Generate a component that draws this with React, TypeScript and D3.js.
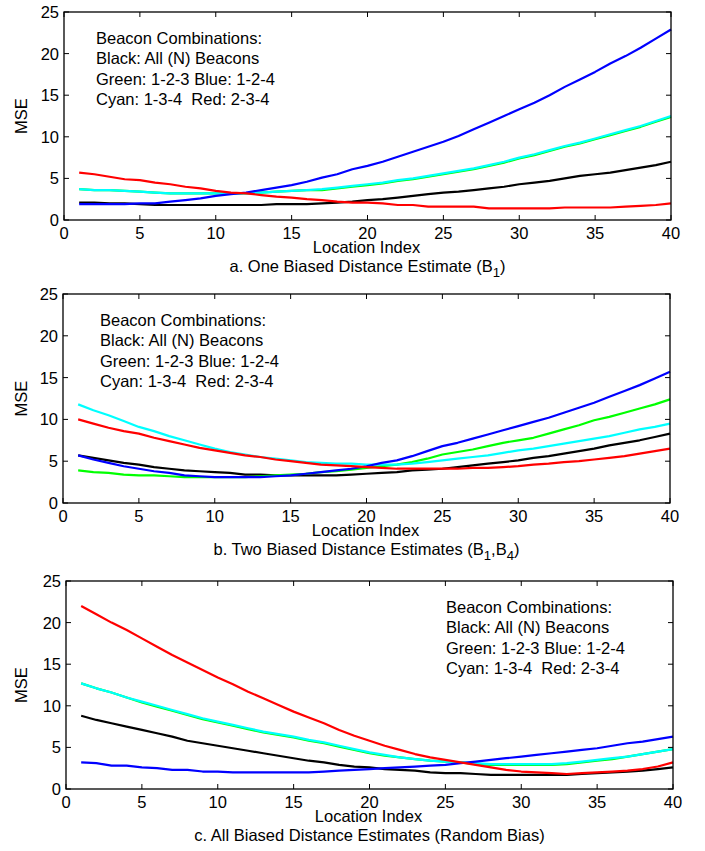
import * as d3 from "d3";

// location index 1..40
const locations = d3.range(1, 41);

// a. One biased distance estimate (B1)
const aBlack = [2.1, 2.1, 2.0, 2.0, 1.9, 1.8, 1.8, 1.8, 1.8, 1.8, 1.8, 1.8, 1.8, 1.9, 1.9, 1.9, 2.0, 2.1, 2.2, 2.4, 2.5, 2.7, 2.9, 3.1, 3.3, 3.4, 3.6, 3.8, 4.0, 4.3, 4.5, 4.7, 5.0, 5.3, 5.5, 5.7, 6.0, 6.3, 6.6, 7.0];
const aGreen = [3.7, 3.6, 3.6, 3.5, 3.4, 3.3, 3.2, 3.2, 3.2, 3.2, 3.2, 3.2, 3.3, 3.4, 3.5, 3.6, 3.6, 3.8, 4.0, 4.2, 4.4, 4.7, 4.9, 5.2, 5.5, 5.8, 6.1, 6.5, 6.9, 7.4, 7.8, 8.3, 8.8, 9.2, 9.7, 10.2, 10.7, 11.2, 11.8, 12.4];
const aBlue = [1.9, 1.9, 1.9, 1.9, 2.0, 2.0, 2.2, 2.4, 2.6, 2.9, 3.1, 3.3, 3.6, 3.9, 4.2, 4.6, 5.1, 5.5, 6.1, 6.5, 7.0, 7.6, 8.2, 8.8, 9.4, 10.1, 10.9, 11.7, 12.5, 13.3, 14.1, 15.0, 16.0, 16.9, 17.8, 18.8, 19.7, 20.7, 21.8, 22.9];
const aCyan = [3.7, 3.6, 3.6, 3.5, 3.4, 3.3, 3.2, 3.2, 3.2, 3.2, 3.2, 3.2, 3.3, 3.4, 3.5, 3.6, 3.7, 3.9, 4.1, 4.3, 4.5, 4.8, 5.0, 5.3, 5.6, 5.9, 6.2, 6.6, 7.0, 7.5, 7.9, 8.4, 8.9, 9.3, 9.8, 10.3, 10.8, 11.3, 11.9, 12.5];
const aRed = [5.7, 5.5, 5.2, 4.9, 4.8, 4.5, 4.3, 4.0, 3.8, 3.5, 3.3, 3.2, 3.0, 2.8, 2.7, 2.5, 2.4, 2.2, 2.1, 2.1, 2.0, 1.8, 1.8, 1.6, 1.6, 1.6, 1.6, 1.4, 1.4, 1.4, 1.4, 1.4, 1.5, 1.5, 1.5, 1.5, 1.6, 1.7, 1.8, 2.0];

// b. Two biased distance estimates (B1,B4)
const bBlack = [5.7, 5.4, 5.1, 4.8, 4.6, 4.3, 4.1, 3.9, 3.8, 3.7, 3.6, 3.4, 3.4, 3.3, 3.3, 3.3, 3.3, 3.3, 3.4, 3.5, 3.6, 3.7, 3.9, 4.0, 4.1, 4.3, 4.5, 4.7, 4.9, 5.1, 5.4, 5.6, 5.9, 6.2, 6.5, 6.9, 7.2, 7.5, 7.9, 8.3];
const bGreen = [3.9, 3.7, 3.6, 3.4, 3.3, 3.3, 3.2, 3.1, 3.1, 3.1, 3.1, 3.1, 3.2, 3.3, 3.4, 3.5, 3.7, 3.8, 4.0, 4.2, 4.4, 4.6, 4.9, 5.3, 5.8, 6.1, 6.4, 6.8, 7.2, 7.5, 7.8, 8.3, 8.8, 9.3, 9.9, 10.3, 10.8, 11.3, 11.8, 12.4];
const bBlue = [5.7, 5.2, 4.8, 4.4, 4.1, 3.8, 3.6, 3.3, 3.2, 3.1, 3.1, 3.1, 3.1, 3.2, 3.3, 3.5, 3.7, 3.9, 4.1, 4.4, 4.8, 5.1, 5.6, 6.2, 6.8, 7.2, 7.7, 8.2, 8.7, 9.2, 9.7, 10.2, 10.8, 11.4, 12.0, 12.7, 13.4, 14.1, 14.9, 15.7];
const bCyan = [11.8, 11.1, 10.5, 9.8, 9.1, 8.6, 8.0, 7.5, 7.0, 6.5, 6.1, 5.8, 5.5, 5.3, 5.1, 4.9, 4.8, 4.7, 4.7, 4.6, 4.6, 4.6, 4.7, 4.9, 5.1, 5.3, 5.5, 5.7, 6.0, 6.3, 6.5, 6.8, 7.1, 7.4, 7.7, 8.0, 8.4, 8.8, 9.1, 9.5];
const bRed = [10.0, 9.5, 9.0, 8.6, 8.3, 7.8, 7.4, 7.0, 6.6, 6.3, 6.0, 5.7, 5.5, 5.2, 5.0, 4.8, 4.6, 4.5, 4.4, 4.3, 4.2, 4.1, 4.1, 4.1, 4.1, 4.1, 4.2, 4.2, 4.3, 4.4, 4.6, 4.7, 4.9, 5.0, 5.2, 5.4, 5.6, 5.9, 6.2, 6.5];

// c. All biased distance estimates (random bias)
const cBlack = [8.8, 8.3, 7.9, 7.5, 7.1, 6.7, 6.3, 5.8, 5.5, 5.2, 4.9, 4.6, 4.3, 4.0, 3.7, 3.4, 3.2, 2.9, 2.7, 2.6, 2.4, 2.3, 2.2, 2.0, 1.9, 1.9, 1.8, 1.7, 1.7, 1.7, 1.7, 1.7, 1.7, 1.8, 1.9, 2.0, 2.1, 2.2, 2.4, 2.6];
const cGreen = [12.7, 12.1, 11.6, 11.0, 10.4, 9.9, 9.4, 8.9, 8.4, 8.0, 7.6, 7.2, 6.8, 6.5, 6.2, 5.8, 5.5, 5.1, 4.7, 4.3, 4.0, 3.8, 3.6, 3.4, 3.3, 3.2, 3.0, 2.9, 2.9, 2.9, 2.9, 2.9, 3.0, 3.2, 3.4, 3.6, 3.9, 4.2, 4.5, 4.8];
const cBlue = [3.2, 3.1, 2.8, 2.8, 2.6, 2.5, 2.3, 2.3, 2.1, 2.1, 2.0, 2.0, 2.0, 2.0, 2.0, 2.0, 2.1, 2.2, 2.3, 2.4, 2.5, 2.6, 2.7, 2.8, 2.9, 3.1, 3.3, 3.5, 3.7, 3.9, 4.1, 4.3, 4.5, 4.7, 4.9, 5.2, 5.5, 5.7, 6.0, 6.3];
const cCyan = [12.7, 12.1, 11.6, 11.0, 10.5, 10.0, 9.5, 9.0, 8.5, 8.1, 7.7, 7.3, 6.9, 6.6, 6.3, 5.9, 5.6, 5.2, 4.8, 4.4, 4.1, 3.8, 3.6, 3.4, 3.3, 3.2, 3.1, 3.0, 3.0, 3.0, 3.0, 3.0, 3.1, 3.3, 3.5, 3.7, 3.9, 4.2, 4.5, 4.8];
const cRed = [22.0, 21.0, 20.0, 19.1, 18.1, 17.1, 16.1, 15.2, 14.3, 13.4, 12.6, 11.7, 10.9, 10.1, 9.3, 8.6, 7.9, 7.1, 6.4, 5.8, 5.2, 4.7, 4.2, 3.8, 3.5, 3.2, 2.9, 2.6, 2.3, 2.1, 2.0, 1.9, 1.8, 1.9, 2.0, 2.1, 2.2, 2.4, 2.7, 3.2];

const xTicks = [0, 5, 10, 15, 20, 25, 30, 35, 40];
const yTicks = [0, 5, 10, 15, 20, 25];
const legendLines = [
  "Beacon Combinations:",
  "Black: All (N) Beacons",
  "Green: 1-2-3 Blue: 1-2-4",
  "Cyan: 1-3-4  Red: 2-3-4",
];

const FONT = "'Liberation Sans', Arial, Helvetica, sans-serif";
const FS = 16.5;

type Series = { color: string; values: number[] };

const panels = [
  {
    top: 12, bottom: 220, left: 64, right: 671,
    legendX: 96,
    caption: [["a. One Biased Distance Estimate (B", false], ["1", true], [")", false]],
    series: [
      { color: "#000000", values: aBlack },
      { color: "#00ff00", values: aGreen },
      { color: "#00ffff", values: aCyan },
      { color: "#0000ff", values: aBlue },
      { color: "#ff0000", values: aRed },
    ] as Series[],
  },
  {
    top: 294, bottom: 503, left: 63, right: 670,
    legendX: 100,
    caption: [["b. Two Biased Distance Estimates (B", false], ["1", true], [",B", false], ["4", true], [")", false]],
    series: [
      { color: "#000000", values: bBlack },
      { color: "#00ff00", values: bGreen },
      { color: "#00ffff", values: bCyan },
      { color: "#0000ff", values: bBlue },
      { color: "#ff0000", values: bRed },
    ] as Series[],
  },
  {
    top: 581, bottom: 789, left: 66, right: 673,
    legendX: 446,
    caption: [["c. All Biased Distance Estimates (Random Bias)", false]],
    series: [
      { color: "#000000", values: cBlack },
      { color: "#00ff00", values: cGreen },
      { color: "#00ffff", values: cCyan },
      { color: "#0000ff", values: cBlue },
      { color: "#ff0000", values: cRed },
    ] as Series[],
  },
];

const Panel = ({ p }: { p: (typeof panels)[number] }) => {
  const x = d3.scaleLinear().domain([0, 40]).range([p.left, p.right]);
  const y = d3.scaleLinear().domain([0, 25]).range([p.bottom, p.top]);
  const line = d3
    .line<number>()
    .x((_, i) => x(locations[i]))
    .y((d) => y(d));
  const cx = (p.left + p.right) / 2;
  const tl = 5;

  return (
    <g fontFamily={FONT} fontSize={FS} fill="#000">
      {p.series.map((s, i) => (
        <path key={i} d={line(s.values) || ""} fill="none" stroke={s.color} strokeWidth={2.2} strokeLinejoin="round" />
      ))}
      <rect x={p.left} y={p.top} width={p.right - p.left} height={p.bottom - p.top} fill="none" stroke="#000" strokeWidth={1.3} />
      {xTicks.map((t) => (
        <g key={"x" + t}>
          <line x1={x(t)} x2={x(t)} y1={p.bottom} y2={p.bottom - tl} stroke="#000" strokeWidth={1} />
          <line x1={x(t)} x2={x(t)} y1={p.top} y2={p.top + tl} stroke="#000" strokeWidth={1} />
          <text x={x(t)} y={p.bottom + 18.5} textAnchor="middle">{t}</text>
        </g>
      ))}
      {yTicks.map((t) => (
        <g key={"y" + t}>
          <line x1={p.left} x2={p.left + tl} y1={y(t)} y2={y(t)} stroke="#000" strokeWidth={1} />
          <line x1={p.right} x2={p.right - tl} y1={y(t)} y2={y(t)} stroke="#000" strokeWidth={1} />
          <text x={p.left - 5} y={y(t) + 6} textAnchor="end">{t}</text>
        </g>
      ))}
      <text transform={`translate(27,${(p.top + p.bottom) / 2}) rotate(-90)`} textAnchor="middle">MSE</text>
      <text x={cx - 1} y={p.bottom + 33} textAnchor="middle">Location Index</text>
      <text x={cx} y={p.bottom + 52} textAnchor="middle">
        {p.caption.map(([str, sub], i) =>
          sub ? (
            <tspan key={i} fontSize={FS * 0.8} dy={i === 0 ? 0 : 5}>{str as string}</tspan>
          ) : (
            <tspan key={i} dy={i === 0 ? 0 : -5}>{str as string}</tspan>
          )
        )}
      </text>
      {legendLines.map((l, i) => (
        <text key={"l" + i} x={p.legendX} y={p.top + 31.5 + i * 20.5} style={{ whiteSpace: "pre" }}>{l}</text>
      ))}
    </g>
  );
};

export default function App() {
  return (
    <svg width={705} height={851} style={{ position: "absolute", left: 0, top: 0, background: "#fff" }}>
      <rect width={705} height={851} fill="#fff" />
      {panels.map((p, i) => (
        <Panel key={i} p={p} />
      ))}
    </svg>
  );
}
